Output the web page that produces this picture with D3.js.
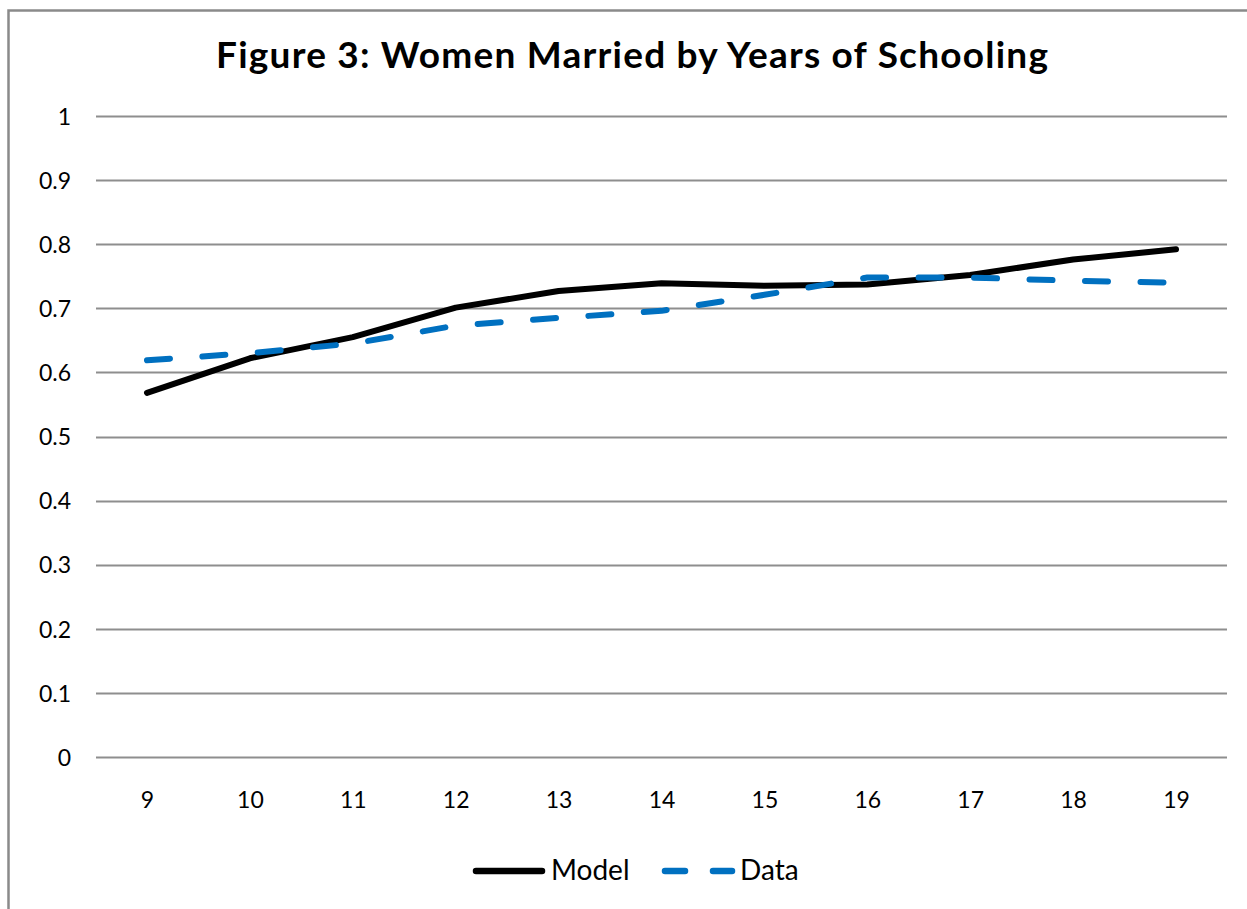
<!DOCTYPE html>
<html>
<head>
<meta charset="utf-8">
<script src="https://cdn.jsdelivr.net/npm/d3@7"></script>
<style>
  html, body { margin: 0; padding: 0; background: #fff; }
  svg { display: block; }
  text { font-family: Lato, "Open Sans", sans-serif; fill: #000; }
</style>
</head>
<body>
<svg id="chart" width="1247" height="909"></svg>
<script>
// Years of schooling (x categories)
const years = [9, 10, 11, 12, 13, 14, 15, 16, 17, 18, 19];
// Share of women married: model prediction vs. observed data
const modelValues = [0.568, 0.622, 0.655, 0.701, 0.727, 0.739, 0.735, 0.737, 0.752, 0.776, 0.792];
const dataValues  = [0.619, 0.630, 0.645, 0.673, 0.685, 0.696, 0.721, 0.748, 0.748, 0.743, 0.740];
// Y-axis ticks
const yTicks = [0, 0.1, 0.2, 0.3, 0.4, 0.5, 0.6, 0.7, 0.8, 0.9, 1];
const titleText = "Figure 3: Women Married by Years of Schooling";
const seriesNames = ["Model", "Data"];

const W = 1247, H = 909;
const svg = d3.select("#chart");

// Outer chart frame (left and top edges visible)
svg.append("path")
  .attr("d", `M8.5,${H} L8.5,10.5 L${W},10.5`)
  .attr("fill", "none")
  .attr("stroke", "#8a8a8a")
  .attr("stroke-width", 2.5);

const plot = { left: 96, right: 1227, top: 116, bottom: 757 };

const x = d3.scalePoint()
  .domain(years)
  .range([147, 1176]);

const y = d3.scaleLinear()
  .domain([0, 1])
  .range([plot.bottom, plot.top]);

// Horizontal gridlines
svg.append("g")
  .selectAll("line")
  .data(yTicks)
  .join("line")
  .attr("x1", plot.left)
  .attr("x2", plot.right)
  .attr("y1", d => Math.round(y(d)) + 0.5)
  .attr("y2", d => Math.round(y(d)) + 0.5)
  .attr("stroke", "#8e8e8e")
  .attr("stroke-width", 2);

// Y axis labels
const yAxis = d3.axisLeft(y).tickValues(yTicks).tickSize(0).tickPadding(0)
  .tickFormat(d => d3.format("")(d));
const gy = svg.append("g").attr("transform", "translate(71,0)").call(yAxis);
gy.select(".domain").remove();
gy.selectAll("text")
  .style("font-family", "Lato, 'Open Sans', sans-serif")
  .attr("font-size", 23)
  .attr("fill", "#000")
  .attr("dy", "0.36em");

// X axis labels
const xAxis = d3.axisBottom(x).tickSize(0).tickPadding(0);
const gx = svg.append("g").attr("transform", "translate(0,791)").call(xAxis);
gx.select(".domain").remove();
gx.selectAll("text")
  .style("font-family", "Lato, 'Open Sans', sans-serif")
  .attr("font-size", 23)
  .attr("fill", "#000")
  .attr("dy", "0.72em");

// Title
svg.append("text")
  .attr("x", 632)
  .attr("y", 68)
  .attr("text-anchor", "middle")
  .attr("font-size", 37)
  .attr("font-weight", "bold")
  .attr("textLength", 832)
  .attr("lengthAdjust", "spacing")
  .text(titleText);

const line = d3.line()
  .x((d, i) => x(years[i]))
  .y(d => y(d));

// Model series (solid black)
svg.append("path")
  .datum(modelValues)
  .attr("d", line)
  .attr("fill", "none")
  .attr("stroke", "#000")
  .attr("stroke-width", 6)
  .attr("stroke-linejoin", "round")
  .attr("stroke-linecap", "round");

// Data series (dashed blue)
svg.append("path")
  .datum(dataValues)
  .attr("d", line)
  .attr("fill", "none")
  .attr("stroke", "#0070c0")
  .attr("stroke-width", 6)
  .attr("stroke-dasharray", "23,32.5")
  .attr("stroke-linejoin", "round")
  .attr("stroke-linecap", "round");

// Legend
const lg = svg.append("g");
lg.append("line")
  .attr("x1", 476).attr("x2", 542).attr("y1", 871).attr("y2", 871)
  .attr("stroke", "#000").attr("stroke-width", 6.5).attr("stroke-linecap", "round");
lg.append("text")
  .attr("x", 551).attr("y", 880)
  .attr("font-size", 28)
  .text(seriesNames[0]);
[[665, 685], [713, 732]].forEach(([a, b]) => {
  lg.append("line")
    .attr("x1", a).attr("x2", b).attr("y1", 871).attr("y2", 871)
    .attr("stroke", "#0070c0").attr("stroke-width", 6.5).attr("stroke-linecap", "round");
});
lg.append("text")
  .attr("x", 740).attr("y", 880)
  .attr("font-size", 28)
  .text(seriesNames[1]);
</script>
</body>
</html>
